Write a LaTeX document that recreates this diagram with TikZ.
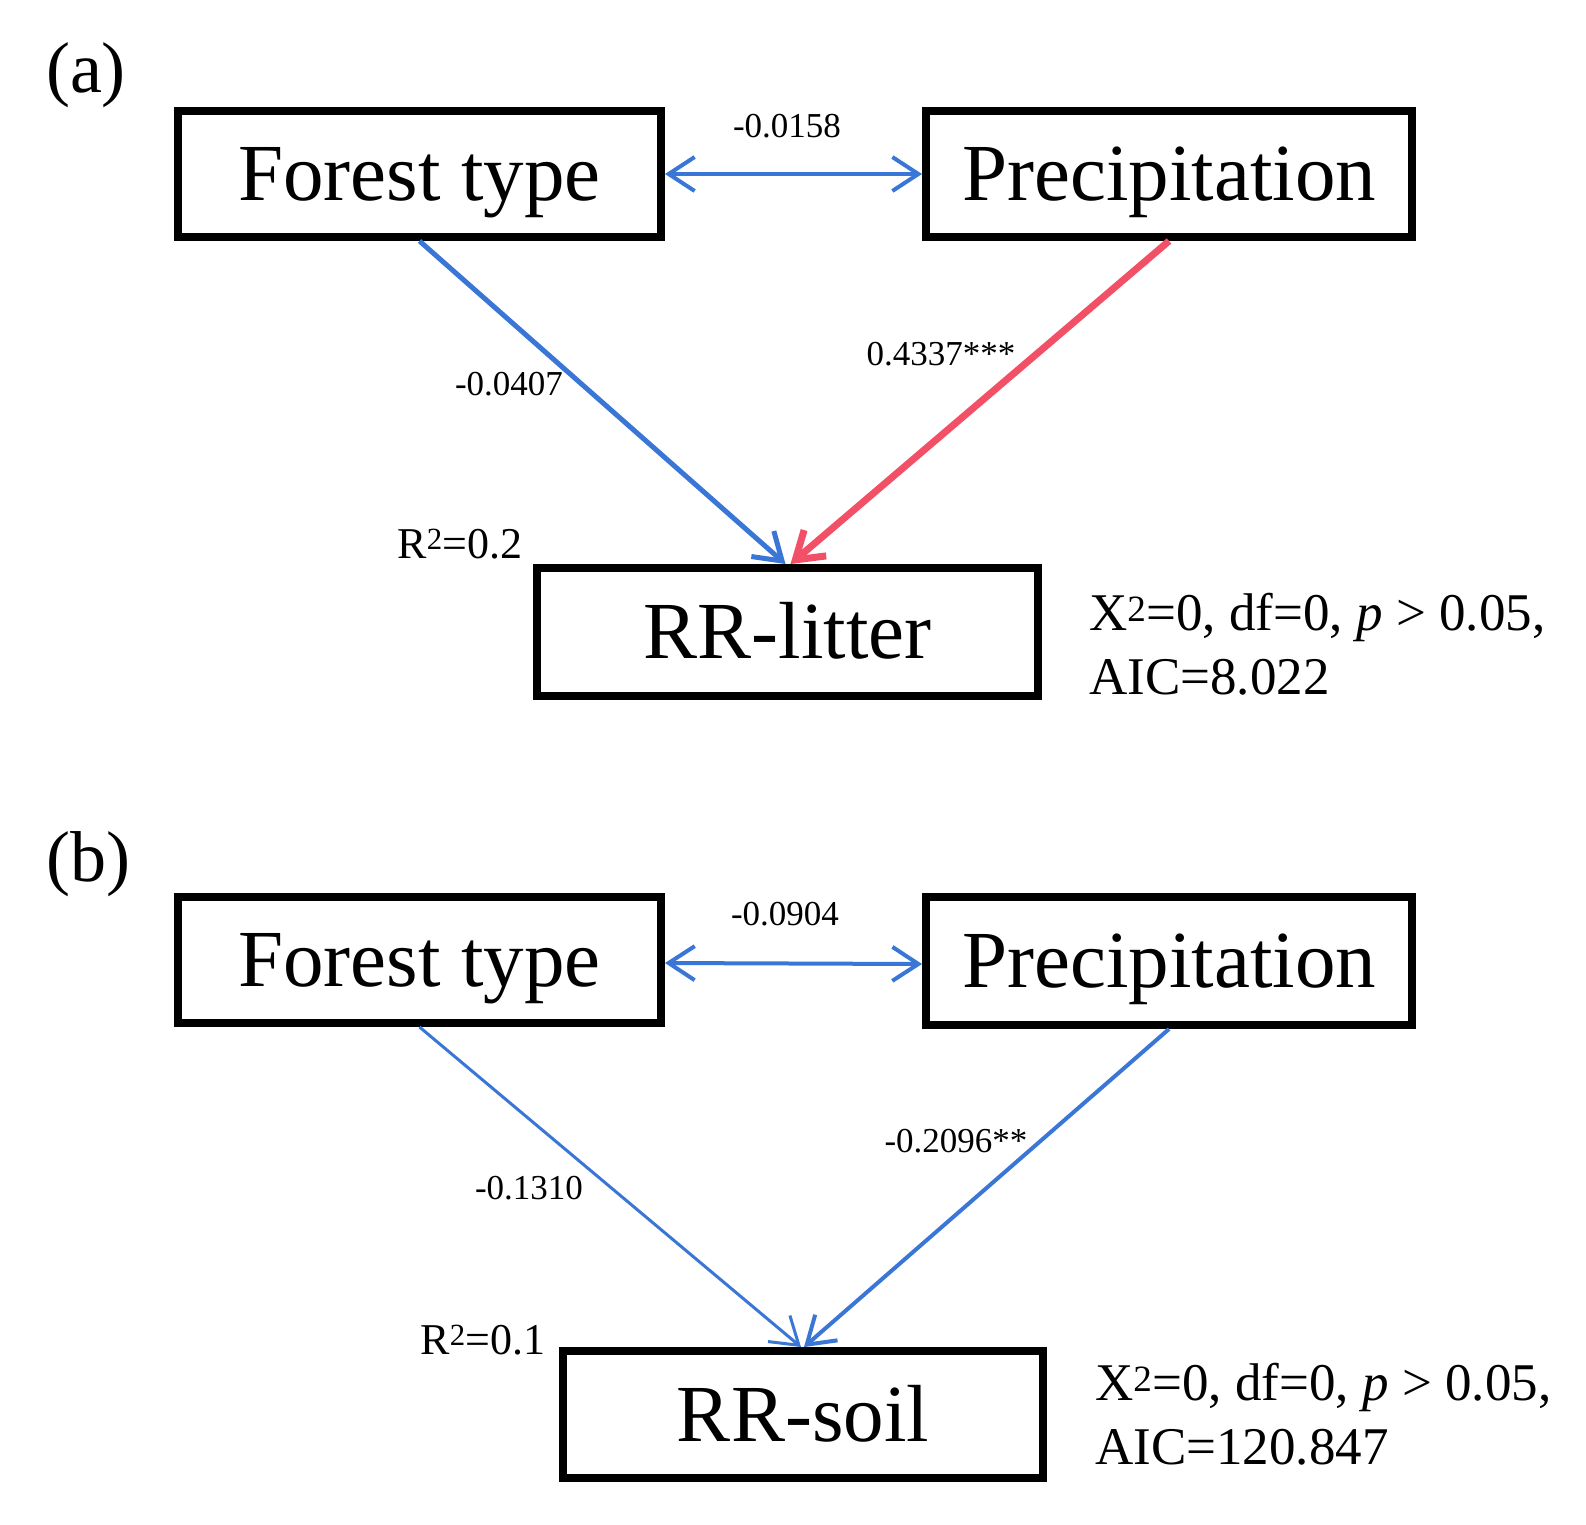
\documentclass[tikz,border=0pt]{standalone}
\usepackage{fontspec}
\setmainfont{Liberation Serif}
\usetikzlibrary{arrows.meta}
\definecolor{pathblue}{RGB}{58,118,214}
\definecolor{pathred}{RGB}{242,80,102}
\begin{document}
\begin{tikzpicture}[x=1pt,y=-1pt,
  varbox/.style={draw=black, line width=8pt, minimum width=#1, minimum height=126pt,
    inner sep=0pt, text height=60pt, text depth=7pt, font=\fontsize{81}{97}\selectfont},
  varbox/.default=483pt,
  barb/.tip={Straight Barb[length=26pt,width=34pt]},
  oneway/.style={-barb},
  twoway/.style={barb-barb, draw=pathblue, line width=4pt},
  coef/.style={inner sep=0pt, font=\fontsize{35}{40}\selectfont},
  rsq/.style={inner sep=0pt, font=\fontsize{44}{50}\selectfont},
  fit/.style={inner sep=0pt, anchor=west, align=left, font=\fontsize{53}{64}\selectfont},
  panel/.style={inner sep=0pt, font=\fontsize{72}{80}\selectfont}
]
\useasboundingbox (0,0) rectangle (1586,1524);

% ---------- panel (a)
\node[panel] (la) at (86,75) {(a)};
\node[varbox=483pt] (fa) at (419.5,174) {Forest type};
\node[varbox=486pt] (pa) at (1169,174) {Precipitation};
\node[varbox=501pt, minimum height=128pt] (ra) at (787.5,632) {RR-litter};

\draw[twoway] (fa.east) -- (pa.west);
\draw[oneway, draw=pathblue, line width=5pt] (fa.south) -- ([xshift=-2pt]ra.north);
\draw[oneway, draw=pathred, line width=7pt] (pa.south) -- ([xshift=3pt]ra.north);

\node[coef] (ca1) at (787,126) {-0.0158};
\node[coef] (ca2) at (509,384) {-0.0407};
\node[coef] (ca3) at (941,354) {0.4337***};
\node[rsq] (ra2) at (460,544) {R\textsuperscript{2}=0.2};
\node[fit] (fa2) at (1089,644) {X\textsuperscript{2}=0, df=0, \textit{p} > 0.05,\\AIC=8.022};

% ---------- panel (b)
\node[panel] (lb) at (88,864) {(b)};
\node[varbox=483pt] (fb) at (419.5,960) {Forest type};
\node[varbox=486pt, minimum height=128pt] (pb) at (1169,961) {Precipitation};
\node[varbox=480pt, minimum height=127pt] (rb) at (803,1414.5) {RR-soil};

\draw[twoway] ([yshift=-3pt]fb.east) -- ([yshift=-3pt]pb.west);
\draw[oneway, draw=pathblue, line width=3pt] (fb.south) -- ([xshift=-2pt]rb.north);
\draw[oneway, draw=pathblue, line width=4pt] (pb.south) -- ([xshift=1pt]rb.north);

\node[coef] (cb1) at (785,914) {-0.0904};
\node[coef] (cb2) at (529,1188) {-0.1310};
\node[coef] (cb3) at (956,1141) {-0.2096**};
\node[rsq] (rb2) at (483,1340) {R\textsuperscript{2}=0.1};
\node[fit] (fb2) at (1095,1414) {X\textsuperscript{2}=0, df=0, \textit{p} > 0.05,\\AIC=120.847};
\end{tikzpicture}
\end{document}
